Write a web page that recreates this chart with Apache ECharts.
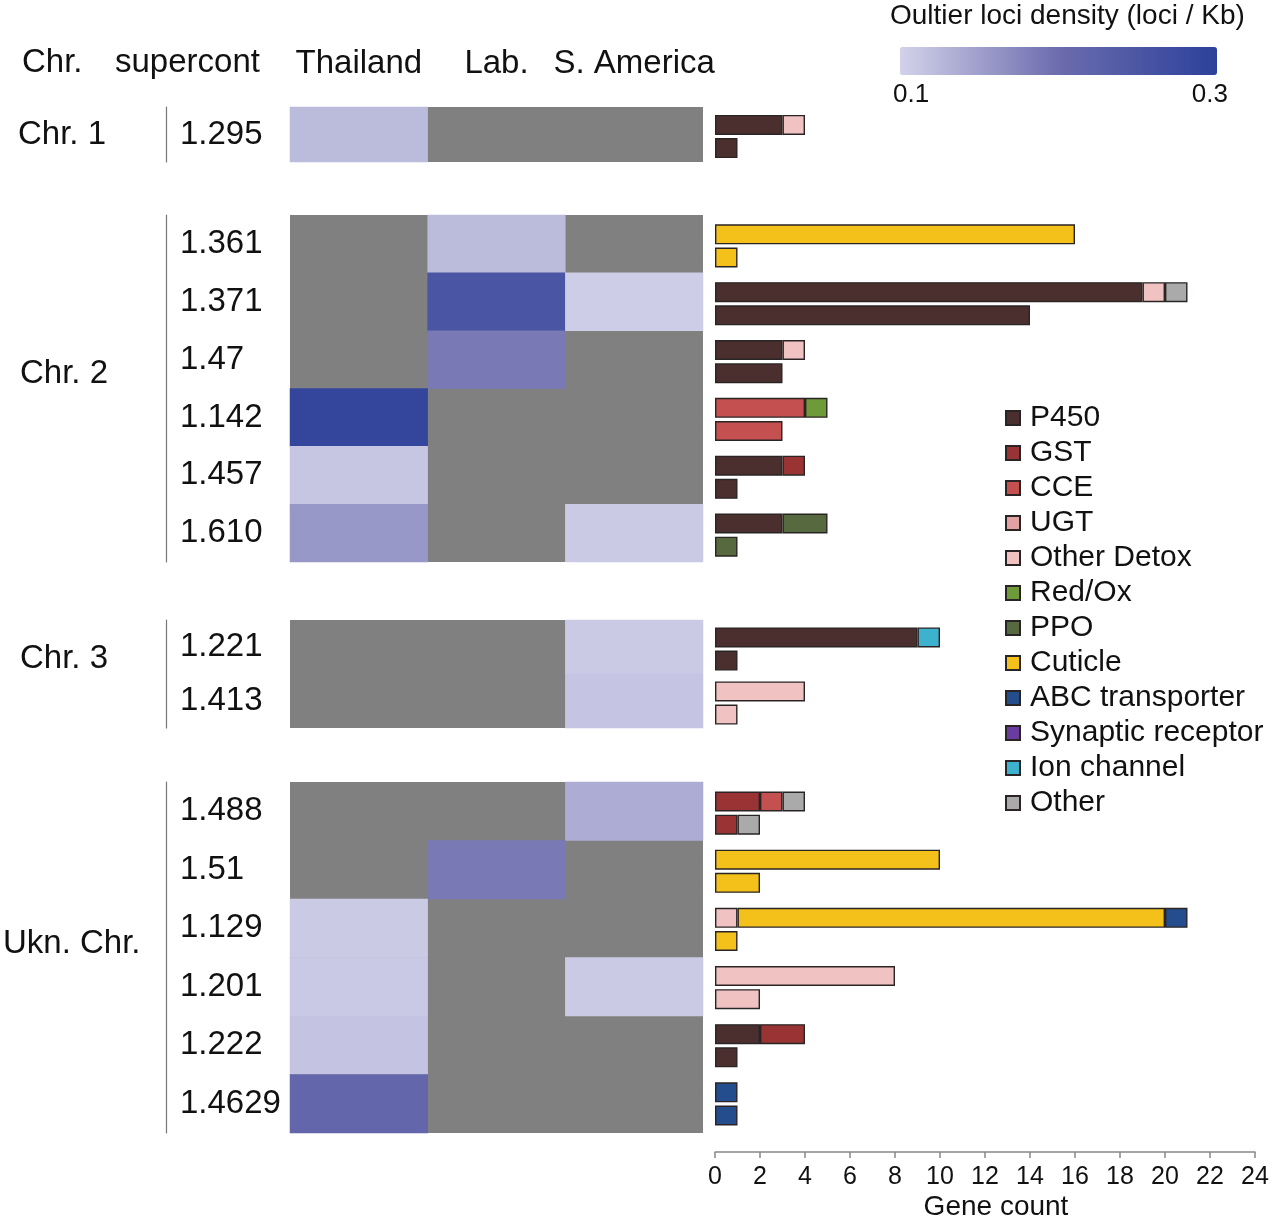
<!DOCTYPE html>
<html>
<head>
<meta charset="utf-8">
<title>Outlier loci and gene content per supercontig</title>
<script src="https://cdn.jsdelivr.net/npm/echarts@6/dist/echarts.min.js"></script>
<style>
  html, body { margin: 0; padding: 0; background: #fff; }
  #main { width: 1280px; height: 1222px; }
</style>
</head>
<body>
<div id="main"></div>
<script>
// ---- data ----
var populations = ['Thailand', 'Lab.', 'S. America'];
var chromosomes = ['Chr. 1', 'Chr. 2', 'Chr. 3', 'Ukn. Chr.'];
var supercont = ['1.295', '1.361', '1.371', '1.47', '1.142', '1.457', '1.610',
                 '1.221', '1.413',
                 '1.488', '1.51', '1.129', '1.201', '1.222', '1.4629'];
var chrOfRow = [0, 1, 1, 1, 1, 1, 1, 2, 2, 3, 3, 3, 3, 3, 3];

// outlier loci density (loci / Kb), null = no outliers (grey)
var thailand = [0.123, null, null, null, 0.288, 0.113, 0.157, null, null, null, null, 0.108, 0.109, 0.115, 0.214];
var lab      = [null, 0.123, 0.253, 0.187, null, null, null, null, null, null, 0.187, null, null, null, null];
var sAmerica = [null, null, 0.105, null, null, null, 0.108, 0.108, 0.114, 0.137, null, null, 0.108, null, null];
var densityRange = [0.1, 0.3];

var geneClasses = ['P450', 'GST', 'CCE', 'UGT', 'Other Detox', 'Red/Ox', 'PPO', 'Cuticle',
                   'ABC transporter', 'Synaptic receptor', 'Ion channel', 'Other'];

// gene counts, upper bar of each supercontig (one row per gene class)
var upperBars = [
  [3, 0, 19, 3, 0, 3, 3, 9, 0, 0, 0, 0, 0, 2, 0],   // P450
  [0, 0, 0, 0, 0, 1, 0, 0, 0, 2, 0, 0, 0, 2, 0],    // GST
  [0, 0, 0, 0, 4, 0, 0, 0, 0, 1, 0, 0, 0, 0, 0],    // CCE
  [0, 0, 0, 0, 0, 0, 0, 0, 0, 0, 0, 0, 0, 0, 0],    // UGT
  [1, 0, 1, 1, 0, 0, 0, 0, 4, 0, 0, 1, 8, 0, 0],    // Other Detox
  [0, 0, 0, 0, 1, 0, 0, 0, 0, 0, 0, 0, 0, 0, 0],    // Red/Ox
  [0, 0, 0, 0, 0, 0, 2, 0, 0, 0, 0, 0, 0, 0, 0],    // PPO
  [0, 16, 0, 0, 0, 0, 0, 0, 0, 0, 10, 19, 0, 0, 0], // Cuticle
  [0, 0, 0, 0, 0, 0, 0, 0, 0, 0, 0, 1, 0, 0, 1],    // ABC transporter
  [0, 0, 0, 0, 0, 0, 0, 0, 0, 0, 0, 0, 0, 0, 0],    // Synaptic receptor
  [0, 0, 0, 0, 0, 0, 0, 1, 0, 0, 0, 0, 0, 0, 0],    // Ion channel
  [0, 0, 1, 0, 0, 0, 0, 0, 0, 1, 0, 0, 0, 0, 0]     // Other
];
// gene counts, lower bar of each supercontig
var lowerBars = [
  [1, 0, 14, 3, 0, 1, 0, 1, 0, 0, 0, 0, 0, 1, 0],   // P450
  [0, 0, 0, 0, 0, 0, 0, 0, 0, 1, 0, 0, 0, 0, 0],    // GST
  [0, 0, 0, 0, 3, 0, 0, 0, 0, 0, 0, 0, 0, 0, 0],    // CCE
  [0, 0, 0, 0, 0, 0, 0, 0, 0, 0, 0, 0, 0, 0, 0],    // UGT
  [0, 0, 0, 0, 0, 0, 0, 0, 1, 0, 0, 0, 2, 0, 0],    // Other Detox
  [0, 0, 0, 0, 0, 0, 0, 0, 0, 0, 0, 0, 0, 0, 0],    // Red/Ox
  [0, 0, 0, 0, 0, 0, 1, 0, 0, 0, 0, 0, 0, 0, 0],    // PPO
  [0, 1, 0, 0, 0, 0, 0, 0, 0, 0, 2, 1, 0, 0, 0],    // Cuticle
  [0, 0, 0, 0, 0, 0, 0, 0, 0, 0, 0, 0, 0, 0, 1],    // ABC transporter
  [0, 0, 0, 0, 0, 0, 0, 0, 0, 0, 0, 0, 0, 0, 0],    // Synaptic receptor
  [0, 0, 0, 0, 0, 0, 0, 0, 0, 0, 0, 0, 0, 0, 0],    // Ion channel
  [0, 0, 0, 0, 0, 0, 0, 0, 0, 1, 0, 0, 0, 0, 0]     // Other
];
var countAxis = [0, 24, 2]; // min, max, step

// ---- look ----
var FONT = '"Liberation Sans", Arial, sans-serif';
var TXT = '#111';
var classColors = ['#4b2f2f', '#9a3434', '#c55050', '#e2a2a2', '#f0c2c2', '#6f9a3a',
                   '#56693f', '#f3c11a', '#244d8d', '#6b3c9f', '#3db2cf', '#aaaaaa'];
var groupTop = [107, 215, 620, 782];
var groupHeight = [55, 347, 108, 351];
var chrLabelPos = [[18, 135], [20, 374], [20, 659], [3, 944]];

var grids = [], xAxes = [], yAxes = [], series = [], heatSeries = [];
var densities = [thailand, lab, sAmerica];

chromosomes.forEach(function (chr, g) {
  var rows = [];
  supercont.forEach(function (s, i) { if (chrOfRow[i] === g) rows.push(i); });
  var names = rows.map(function (i) { return supercont[i]; });
  var hg = grids.length, bg = hg + 1;

  grids.push({left: 290, width: 413, top: groupTop[g], height: groupHeight[g],
              show: true, backgroundColor: '#808080', borderWidth: 0});
  grids.push({left: 715, width: 540, top: groupTop[g] + 2, height: groupHeight[g]});

  xAxes.push({
    gridIndex: hg, type: 'category', data: populations, position: 'top', show: g === 0,
    axisLine: {show: false}, axisTick: {show: false}, splitLine: {show: false},
    axisLabel: {interval: 0, fontSize: 33, color: TXT, fontFamily: FONT, margin: 27}
  });
  xAxes.push({
    gridIndex: bg, type: 'value', min: countAxis[0], max: countAxis[1], interval: countAxis[2],
    show: g === chromosomes.length - 1, offset: 19, splitLine: {show: false},
    axisLine: {show: true, lineStyle: {color: '#888', width: 1.5}},
    axisTick: {show: true, length: 6, lineStyle: {color: '#888', width: 1.5}},
    axisLabel: {fontSize: 25, color: TXT, fontFamily: FONT, margin: 13},
    name: 'Gene count', nameLocation: 'middle', nameGap: 41,
    nameTextStyle: {fontSize: 28, color: TXT, fontFamily: FONT, padding: [0, 0, 0, 22]}
  });
  yAxes.push({
    gridIndex: hg, type: 'category', data: names, inverse: true, offset: 124,
    axisLine: {show: true, lineStyle: {color: '#777', width: 1.2}},
    axisTick: {show: false}, splitLine: {show: false},
    axisLabel: {interval: 0, inside: true, margin: 14, align: 'left', fontSize: 33, color: TXT, fontFamily: FONT}
  });
  yAxes.push({gridIndex: bg, type: 'category', data: names, inverse: true, show: false});

  var cells = [];
  rows.forEach(function (i, r) {
    densities.forEach(function (arr, p) {
      if (arr[i] !== null) cells.push([p, r, arr[i]]);
    });
  });
  heatSeries.push(series.length);
  series.push({type: 'heatmap', xAxisIndex: hg, yAxisIndex: hg, data: cells,
               itemStyle: {borderWidth: 0}, emphasis: {disabled: true}});

  [['up', upperBars], ['low', lowerBars]].forEach(function (lv) {
    geneClasses.forEach(function (cls, c) {
      series.push({
        type: 'bar', name: cls, xAxisIndex: bg, yAxisIndex: bg,
        stack: lv[0] + g, barWidth: 20, barGap: '16%',
        data: rows.map(function (i) { var v = lv[1][c][i]; return v ? v : '-'; }),
        itemStyle: {color: classColors[c], borderColor: '#2b2424', borderWidth: 1.4},
        emphasis: {disabled: true}
      });
    });
  });
});

var graphics = [
  {type: 'text', left: 22, top: 46, style: {text: 'Chr.', font: '33px ' + FONT, fill: TXT}},
  {type: 'text', left: 115, top: 46, style: {text: 'supercont', font: '33px ' + FONT, fill: TXT}},
  {type: 'text', left: 890, top: 2, style: {text: 'Oultier loci density (loci / Kb)', font: '28px ' + FONT, fill: TXT}},
  {type: 'text', left: 893, top: 82, style: {text: String(densityRange[0]), font: '26px ' + FONT, fill: TXT}},
  {type: 'text', right: 52, top: 82, style: {text: String(densityRange[1]), font: '26px ' + FONT, fill: TXT}}
];
chromosomes.forEach(function (chr, g) {
  graphics.push({type: 'text', left: chrLabelPos[g][0], top: chrLabelPos[g][1] - 17,
                 style: {text: chr, font: '33px ' + FONT, fill: TXT}});
});

var chart = echarts.init(document.getElementById('main'), null, {renderer: 'canvas'});
chart.setOption({
  backgroundColor: '#fff',
  animation: false,
  grid: grids,
  xAxis: xAxes,
  yAxis: yAxes,
  visualMap: {
    type: 'continuous', seriesIndex: heatSeries, min: densityRange[0], max: densityRange[1],
    orient: 'horizontal', left: 900, top: 47, itemWidth: 28, itemHeight: 317,
    padding: 0, calculable: false, text: null, showLabel: false, hoverLink: false,
    inRange: {color: ['#d3d2ea', '#6c6cae', '#2c419a']}
  },
  legend: {
    data: geneClasses, orient: 'vertical', left: 1005, top: 403, selectedMode: false,
    icon: 'rect', itemWidth: 14, itemHeight: 14, itemGap: 5, padding: 0,
    textStyle: {fontSize: 30, lineHeight: 30, color: TXT, fontFamily: FONT, padding: [0, 0, 0, 5]}
  },
  graphic: graphics,
  series: series
});
</script>
</body>
</html>
